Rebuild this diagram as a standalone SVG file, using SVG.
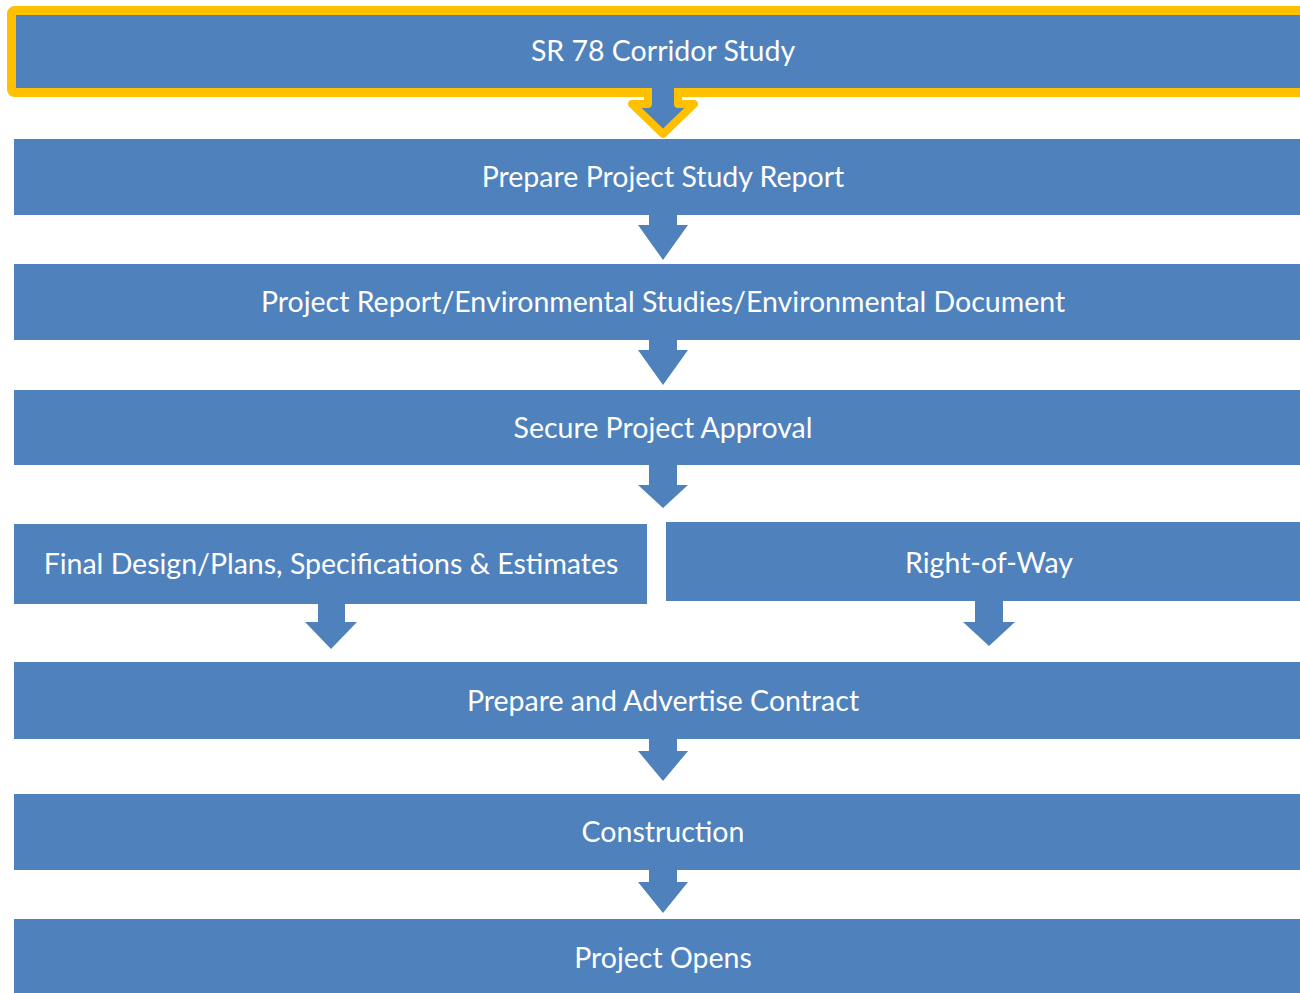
<svg xmlns="http://www.w3.org/2000/svg" width="1300" height="993" viewBox="0 0 1300 993">
<style>
.box{fill:#4f81bd}
.lbl{fill:#ffffff;font-family:Lato,"Open Sans",sans-serif;font-size:28.5px;text-anchor:middle;dominant-baseline:central}
.arr{fill:#4f81bd}
</style>
<rect width="1300" height="993" fill="#ffffff"/>
<g id="n1">
<rect x="11.5" y="10.5" width="1310" height="82" rx="3" fill="#4f81bd" stroke="#ffc000" stroke-width="9"/>
<text class="lbl" x="663" y="50">SR 78 Corridor Study</text>
</g>
<g id="n2"><rect class="box" x="14" y="139" width="1300" height="76"/><text class="lbl" x="663" y="176">Prepare Project Study Report</text></g>
<g id="n3"><rect class="box" x="14" y="264" width="1300" height="76"/><text class="lbl" x="663" y="301">Project Report/Environmental Studies/Environmental Document</text></g>
<g id="n4"><rect class="box" x="14" y="390" width="1300" height="75"/><text class="lbl" x="663" y="427">Secure Project Approval</text></g>
<g id="n5a"><rect class="box" x="14" y="524" width="633" height="80"/><text class="lbl" x="331" y="563">Final Design/Plans, Specifications &amp; Estimates</text></g>
<g id="n5b"><rect class="box" x="666" y="522" width="640" height="79"/><text class="lbl" x="989" y="562">Right-of-Way</text></g>
<g id="n6"><rect class="box" x="14" y="662" width="1300" height="77"/><text class="lbl" x="663" y="700">Prepare and Advertise Contract</text></g>
<g id="n7"><rect class="box" x="14" y="794" width="1300" height="76"/><text class="lbl" x="663" y="831">Construction</text></g>
<g id="n8"><rect class="box" x="14" y="919" width="1300" height="80"/><text class="lbl" x="663" y="957">Project Opens</text></g>
<g id="connectors">
<path d="M648,88 L648,104 L632,104 L663,134 L694,104 L678,104 L678,88" fill="#4f81bd" stroke="#ffc000" stroke-width="8" stroke-linejoin="round"/>
<rect x="652" y="83" width="22" height="24" fill="#4f81bd"/>
<path class="arr" d="M649,215 L649,225 L638,225 L663,260 L688,225 L677,225 L677,215 Z"/>
<path class="arr" d="M649,340 L649,350 L638,350 L663,385 L688,350 L677,350 L677,340 Z"/>
<path class="arr" d="M649,465 L649,485 L638,485 L663,508 L688,485 L677,485 L677,465 Z"/>
<path class="arr" d="M318,604 L318,622 L305,622 L331,649 L357,622 L345,622 L345,604 Z"/>
<path class="arr" d="M975,601 L975,622 L963,622 L989,646 L1015,622 L1003,622 L1003,601 Z"/>
<path class="arr" d="M649,739 L649,751 L638,751 L663,781 L688,751 L677,751 L677,739 Z"/>
<path class="arr" d="M649,870 L649,882 L638,882 L663,913 L688,882 L677,882 L677,870 Z"/>
</g>
</svg>
